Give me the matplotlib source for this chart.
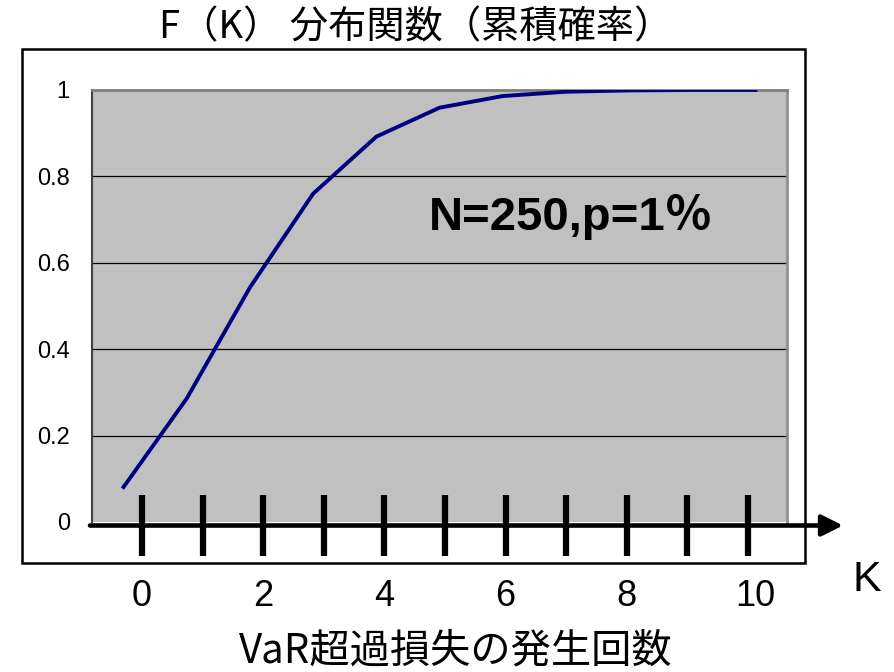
import numpy as np
import matplotlib.pyplot as plt
import matplotlib.transforms as mtransforms
from matplotlib.patches import Rectangle

# データ
k_values = list(range(11))
cdf_values = [0.081, 0.286, 0.543, 0.760, 0.892, 0.959, 0.986, 0.996, 0.999, 1.0, 1.0]
y_ticks = [0, 0.2, 0.4, 0.6, 0.8, 1]
y_tick_labels = ['0', '0.2', '0.4', '0.6', '0.8', '1']
k_label_values = [0, 2, 4, 6, 8, 10]

title_text = 'F（K） 分布関数（累積確率）'
xlabel_text = 'VaR超過損失の発生回数'
note_text = 'N=250,p=1％'

plt.rcParams['font.family'] = ['Liberation Sans', 'Noto Sans CJK JP', 'DejaVu Sans']

W, H = 895, 672
fig = plt.figure(figsize=(W / 100, H / 100), dpi=100)

def fx(px):
    return px / W

def fy(py):
    return 1 - py / H

# 外枠
fig.patches.append(Rectangle((fx(22), fy(563)), fx(805) - fx(22), fy(49) - fy(563),
                             transform=fig.transFigure, fill=False, lw=1.8,
                             edgecolor='black', zorder=0))

# プロットエリア
ax = fig.add_axes([fx(92), fy(522), fx(787) - fx(92), fy(90) - fy(522)])
ax.set_facecolor('#c0c0c0')
ax.plot(k_values, cdf_values, color='#000080', lw=2.8, zorder=3)
ax.set_xlim(-0.5, 10.5)
ax.set_ylim(0, 1)
ax.set_yticks(y_ticks)
ax.set_yticklabels(y_tick_labels, fontsize=17)
ax.set_xticks([])
ax.tick_params(axis='y', length=0, pad=16)
for yv in y_ticks[1:-1]:
    ax.axhline(yv, color='black', lw=0.9, zorder=1)
ax.spines['top'].set_color('#808080')
ax.spines['top'].set_linewidth(2)
ax.spines['right'].set_color('#909090')
ax.spines['right'].set_linewidth(2)
ax.spines['left'].set_color('#404040')
ax.spines['left'].set_linewidth(1.5)
ax.spines['bottom'].set_visible(False)

ax.text(0.689, 0.706, note_text, transform=ax.transAxes, fontsize=34,
        fontweight='bold', ha='center', va='center',
        family=['Liberation Sans', 'Noto Sans CJK JP'])

# K 軸（矢印と目盛り）
x0_px, x1_px = 90, 843
k0_px, dk_px = 142, 60.6
ax_k = fig.add_axes([fx(x0_px), fy(556), fx(x1_px) - fx(x0_px), fy(495) - fy(556)])
ax_k.set_xlim((x0_px - k0_px) / dk_px, (x1_px - k0_px) / dk_px)
ax_k.set_ylim(0, 1)
ax_k.axis('off')
ax_k.patch.set_alpha(0)
ax_k.vlines(k_values, 0, 1, color='black', lw=4.5)
ax_k.annotate('', xy=(ax_k.get_xlim()[1], 0.5), xytext=(ax_k.get_xlim()[0], 0.5),
              arrowprops=dict(arrowstyle='-|>', lw=3.3, color='black',
                              mutation_scale=32, shrinkA=0, shrinkB=0),
              annotation_clip=False)

trans = mtransforms.blended_transform_factory(ax_k.transData, fig.transFigure)
for kv in k_label_values:
    ax_k.text(kv + (0.12 if kv >= 10 else 0), fy(597), str(kv), transform=trans,
              fontsize=26, ha='center', va='center')

fig.text(fx(867), fy(580), 'K', fontsize=31, ha='center', va='center')
fig.text(fx(416), fy(28), title_text, fontsize=27.5, ha='center', va='center',
         family=['Noto Sans CJK JP', 'DejaVu Sans'])
fig.text(fx(456), fy(651), xlabel_text, fontsize=29, ha='center', va='center',
         family=['Noto Sans CJK JP', 'DejaVu Sans'])

fig.savefig('out.png', dpi=100)
